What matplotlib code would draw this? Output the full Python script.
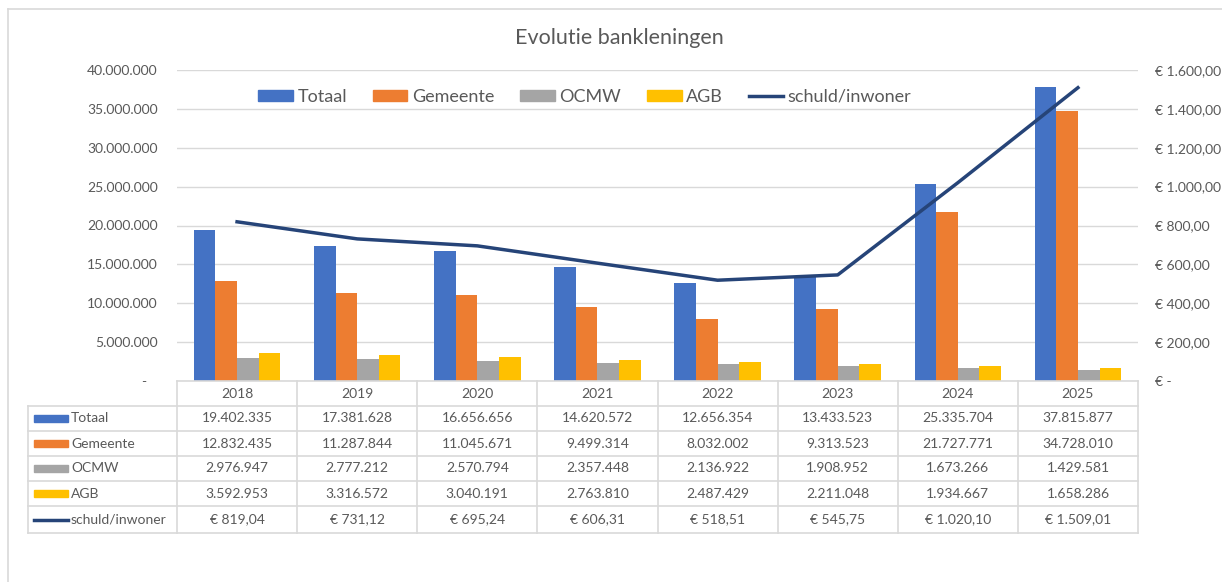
import matplotlib
matplotlib.use('Agg')
import matplotlib.pyplot as plt
import matplotlib.transforms as mtransforms
from matplotlib.lines import Line2D
from matplotlib.patches import Rectangle, Patch
from matplotlib.ticker import FuncFormatter
import numpy as np

# data
years = ['2018', '2019', '2020', '2021', '2022', '2023', '2024', '2025']
totaal = [19402335, 17381628, 16656656, 14620572, 12656354, 13433523, 25335704, 37815877]
gemeente = [12832435, 11287844, 11045671, 9499314, 8032002, 9313523, 21727771, 34728010]
ocmw = [2976947, 2777212, 2570794, 2357448, 2136922, 1908952, 1673266, 1429581]
agb = [3592953, 3316572, 3040191, 2763810, 2487429, 2211048, 1934667, 1658286]
schuld = [819.04, 731.12, 695.24, 606.31, 518.51, 545.75, 1020.10, 1509.01]

series_names = ['Totaal', 'Gemeente', 'OCMW', 'AGB']
series_vals = [totaal, gemeente, ocmw, agb]
colors = ['#4472C4', '#ED7D31', '#A5A5A5', '#FFC000']
line_color = '#264478'
txt = '#595959'
grid = '#D9D9D9'

plt.rcParams['font.family'] = ['Lato', 'DejaVu Sans']

W, H = 1222, 582


def fx(x):
    return x / W


def fy(y):
    return 1 - y / H


def nl(v):
    return f'{int(round(v)):,}'.replace(',', '.')


def euro(v):
    s = f'{v:,.2f}'.replace(',', 'X').replace('.', ',').replace('X', '.')
    return '€ ' + s


fig = plt.figure(figsize=(W / 100, H / 100), dpi=100)
ax = fig.add_axes([fx(177), fy(381), fx(1138) - fx(177), fy(70) - fy(381)])

x = np.arange(len(years))
bw = 0.18
for i, (vals, col) in enumerate(zip(series_vals, colors)):
    ax.bar(x + (i - 1.5) * bw, vals, bw, color=col, zorder=2)

ax.set_xlim(-0.5, len(years) - 0.5)
ax.set_ylim(0, 40e6)
ax.set_yticks(np.arange(0, 40e6 + 1, 5e6))
ax.yaxis.set_major_formatter(FuncFormatter(lambda v, p: nl(v) if v else '-   '))
ax.grid(axis='y', color=grid, lw=1)
ax.set_axisbelow(True)
for s in ax.spines.values():
    s.set_visible(False)
ax.set_xticks([])
ax.tick_params(axis='y', length=0, labelsize=10, labelcolor=txt, pad=14)

ax2 = ax.twinx()
ax2.plot(x, schuld, color=line_color, lw=2.5, zorder=3)
ax2.set_ylim(0, 1600)
ax2.set_yticks(np.arange(0, 1601, 200))
ax2.yaxis.set_major_formatter(FuncFormatter(lambda v, p: euro(v) if v else '€ -'))
for s in ax2.spines.values():
    s.set_visible(False)
ax2.tick_params(axis='y', length=0, labelsize=10, labelcolor=txt, pad=12)

# title
fig.text(fx(619), fy(38), 'Evolutie bankleningen', ha='center', va='center',
         fontsize=15.5, color=txt)

# legend
handles = [Patch(color=c) for c in colors] + [Line2D([], [], color=line_color, lw=2.5)]
fig.legend(handles, series_names + ['schuld/inwoner'], loc='center',
           bbox_to_anchor=(fx(585), fy(97)), ncol=5, frameon=False, fontsize=13,
           handlelength=1.9, handleheight=0.55, handletextpad=0.25,
           columnspacing=1.45, labelcolor=txt)

# data table below the plot
bt = mtransforms.blended_transform_factory(ax.transData, fig.transFigure)
rows = [381, 406, 431, 456, 481, 506, 533]
x_right = ax.get_position().x1
for j, y in enumerate(rows):
    left = fx(177) if j == 0 else fx(28)
    fig.add_artist(Line2D([left, x_right], [fy(y), fy(y)], color=grid, lw=1.2))
fig.add_artist(Line2D([fx(28), fx(28)], [fy(406), fy(533)], color=grid, lw=1.2))
for k in range(len(years) + 1):
    fig.add_artist(Line2D([k - 0.5, k - 0.5], [fy(381), fy(533)], color=grid, lw=1.2,
                          transform=bt))

for i, yr in enumerate(years):
    fig.text(i, fy((rows[0] + rows[1]) / 2), yr, transform=bt, ha='center', va='center',
             fontsize=10, color=txt)

labels = series_names + ['schuld/inwoner']
cols = [nl] * 4 + [euro]
all_vals = series_vals + [schuld]
for j, (lab, fmt, vals) in enumerate(zip(labels, cols, all_vals)):
    yc = (rows[j + 1] + rows[j + 2]) / 2
    if j < 4:
        fig.add_artist(Rectangle((fx(34), fy(yc + 3.5)), fx(34), 7 / H,
                                 color=colors[j], transform=fig.transFigure))
    else:
        fig.add_artist(Line2D([fx(34), fx(68)], [fy(yc), fy(yc)], color=line_color, lw=2.5))
    fig.text(fx(71), fy(yc), lab, ha='left', va='center', fontsize=10, color=txt)
    for i, v in enumerate(vals):
        fig.text(i, fy(yc), fmt(v), transform=bt, ha='center', va='center',
                 fontsize=10, color=txt)

# chart area border
fig.add_artist(Line2D([fx(8), fx(8)], [fy(9), 0], color=grid, lw=1.2))
fig.add_artist(Line2D([fx(8), 1], [fy(9), fy(9)], color=grid, lw=1.2))

fig.savefig('out.png', dpi=100)
